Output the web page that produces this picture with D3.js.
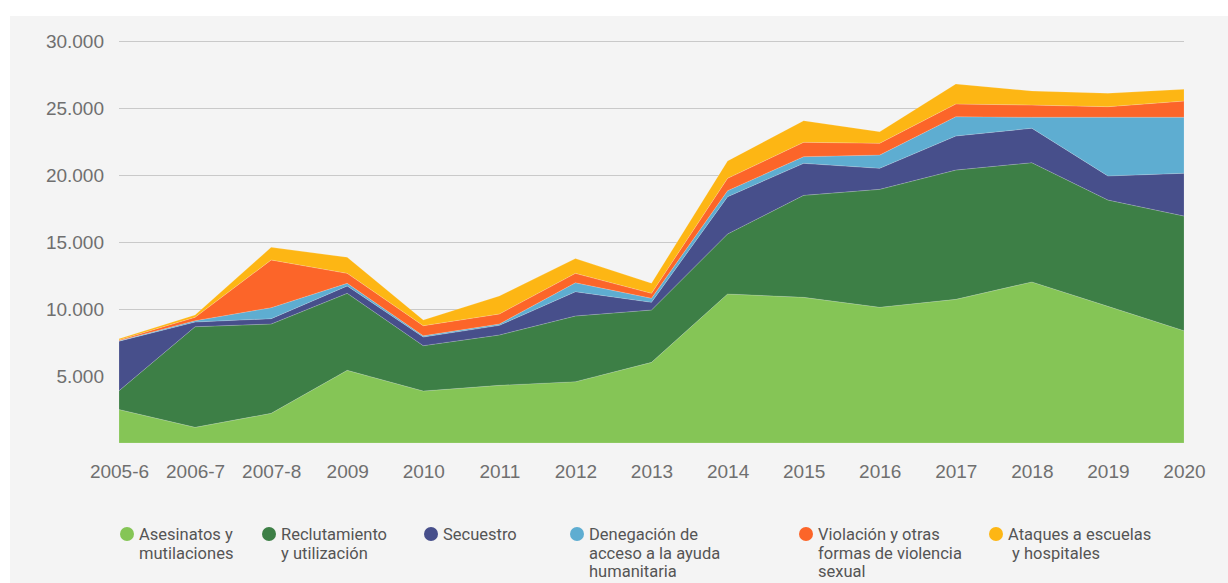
<!DOCTYPE html>
<html>
<head>
<meta charset="utf-8">
<script src="https://cdn.jsdelivr.net/npm/d3@7"></script>
<style>
  body { margin: 0; background: #ffffff; }
  svg { display: block; font-family: Roboto, "Liberation Sans", sans-serif; }
</style>
</head>
<body>
<div id="my_dataviz"></div>
<script>
// data
var years = ["2005-6", "2006-7", "2007-8", "2009", "2010", "2011", "2012", "2013", "2014", "2015", "2016", "2017", "2018", "2019", "2020"];
var asesinatos =    [2500, 1170, 2215, 5425, 3880, 4305, 4575, 6020, 11120, 10870, 10130, 10720, 12020, 10200, 8380];
var reclutamiento = [1400, 7510, 6665, 5745, 3385, 3755, 4905, 3905, 4480, 7610, 8800, 9650, 8900, 7930, 8560];
var secuestro =     [3700, 350, 400, 550, 645, 720, 1810, 575, 2780, 2390, 1570, 2540, 2570, 1800, 3190];
var denegacion =    [30, 100, 820, 200, 90, 100, 670, 300, 450, 500, 990, 1440, 820, 4380, 4180];
var violacion =     [60, 250, 3560, 740, 755, 750, 700, 370, 920, 1070, 880, 950, 910, 790, 1210];
var ataques =       [90, 170, 940, 1200, 425, 1340, 1100, 750, 1300, 1610, 860, 1490, 1050, 1000, 880];

var yTicks = [5000, 10000, 15000, 20000, 25000, 30000];

var keys = ["asesinatos", "reclutamiento", "secuestro", "denegacion", "violacion", "ataques"];
var legendLabels = [
  ["Asesinatos y", "mutilaciones"],
  ["Reclutamiento", "y utilización"],
  ["Secuestro"],
  ["Denegación de", "acceso a la ayuda", "humanitaria"],
  ["Violación y otras", "formas de violencia", "sexual"],
  ["Ataques a escuelas", " y hospitales"]
];
var colors = ["#85c556", "#3d7f46", "#474f8b", "#5eadd1", "#fc6529", "#fdb614"];

// build the table d3.stack wants
var table = years.map(function(y, i) {
  return {
    year: y,
    asesinatos: asesinatos[i],
    reclutamiento: reclutamiento[i],
    secuestro: secuestro[i],
    denegacion: denegacion[i],
    violacion: violacion[i],
    ataques: ataques[i]
  };
});

var W = 1228, H = 583;
var margin = {top: 41, right: 44, bottom: 140, left: 119};
var width = W - margin.left - margin.right;
var height = H - margin.top - margin.bottom;

var root = d3.select("#my_dataviz")
  .append("svg")
    .attr("width", W)
    .attr("height", H);

// grey panel
root.append("rect")
  .attr("x", 10)
  .attr("y", 16)
  .attr("width", W - 10)
  .attr("height", H - 16)
  .attr("fill", "#f4f4f4");

var svg = root.append("g")
  .attr("transform", "translate(" + margin.left + "," + margin.top + ")");

var x = d3.scalePoint()
  .domain(years)
  .range([0, width]);

var y = d3.scaleLinear()
  .domain([0, 30000])
  .range([height, 0]);

var fmt = d3.formatLocale({decimal: ",", thousands: ".", grouping: [3], currency: ["", ""]}).format(",");

// gridlines + y labels
var yAxis = svg.append("g")
  .call(d3.axisLeft(y).tickValues(yTicks).tickSize(-width).tickPadding(15).tickFormat(fmt));
yAxis.select(".domain").remove();
yAxis.selectAll(".tick line").attr("stroke", "#c9c9c9").attr("stroke-width", 1);
yAxis.selectAll(".tick text")
  .attr("fill", "#6f6f6f")
  .style("font-size", "19px");

// stacked areas
var series = d3.stack().keys(keys)(table);

var area = d3.area()
  .x(function(d) { return x(d.data.year); })
  .y0(function(d) { return y(d[0]); })
  .y1(function(d) { return y(d[1]); });

svg.selectAll(".layer")
  .data(series)
  .enter()
  .append("path")
    .attr("class", "layer")
    .attr("fill", function(d, i) { return colors[i]; })
    .attr("stroke", "rgba(255,255,255,0.25)")
    .attr("stroke-width", 0.6)
    .attr("d", area);

// x labels
var xAxis = svg.append("g")
  .attr("transform", "translate(0," + height + ")")
  .call(d3.axisBottom(x).tickSize(0).tickPadding(22));
xAxis.select(".domain").remove();
xAxis.selectAll(".tick text")
  .attr("fill", "#6f6f6f")
  .style("font-size", "19px");

// legend
var legendX = [127, 269, 431, 577, 806, 996];
var legend = root.append("g");
legendLabels.forEach(function(lines, i) {
  var g = legend.append("g").attr("transform", "translate(" + legendX[i] + ",534)");
  g.append("circle")
    .attr("r", 7)
    .attr("fill", colors[i]);
  g.selectAll("text")
    .data(lines)
    .enter()
    .append("text")
      .attr("x", 12)
      .attr("y", function(d, j) { return 6 + j * 18.5; })
      .attr("fill", "#555555")
      .style("font-size", "16.5px")
      .style("white-space", "pre")
      .text(function(d) { return d; });
});
</script>
</body>
</html>
